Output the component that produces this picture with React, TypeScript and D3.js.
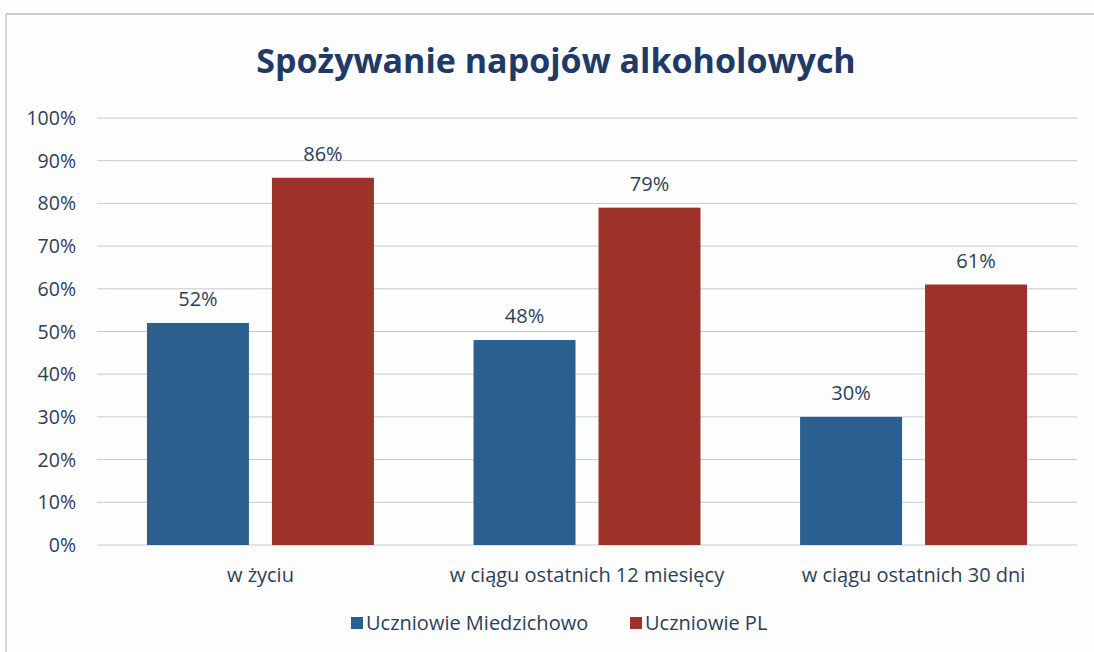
import React from "react";
import * as d3 from "d3";

const categories = ["w życiu", "w ciągu ostatnich 12 miesięcy", "w ciągu ostatnich 30 dni"];
const seriesNames = ["Uczniowie Miedzichowo", "Uczniowie PL"];
const miedzichowo = [52, 48, 30];
const pl = [86, 79, 61];
const yTicks = [0, 10, 20, 30, 40, 50, 60, 70, 80, 90, 100];
const colors = ["#2b5f90", "#9c3229"];
const title = "Spożywanie napojów alkoholowych";

export default function App() {
  const W = 1094, H = 652;
  const left = 97, right = 1077, top = 118, bottom = 545;
  const y = d3.scaleLinear().domain([0, 100]).range([bottom, top]);
  const x0 = d3.scaleBand<string>().domain(categories).range([left, right]).paddingInner(0.305).paddingOuter(0.153);
  const x1 = d3.scaleBand<string>().domain(seriesNames).range([0, x0.bandwidth()]).paddingInner(0.184);
  const series = [miedzichowo, pl];
  const font = "'Open Sans', 'Liberation Sans', sans-serif";
  const textColor = "#2d3f58";
  return (
    <svg width={W} height={H} style={{ position: "absolute", left: 0, top: 0, background: "#fff" }}>
      <rect x={0} y={0} width={W} height={H} fill="#fdfdfd" />
      <line x1={6} x2={W} y1={14} y2={14} stroke="#b8bcc4" strokeWidth={1.5} />
      <line x1={6} x2={6} y1={14} y2={H} stroke="#c4ccd8" strokeWidth={1.5} />
      <text x={556} y={73} textAnchor="middle" fontFamily={font} fontWeight="bold" fontSize={34} fill="#1f3a66">
        {title}
      </text>
      {yTicks.map((t) => (
        <g key={t}>
          <line x1={left} x2={right} y1={y(t)} y2={y(t)} stroke="#c5cad2" strokeWidth={1} />
          <text x={76} y={y(t) + 7} textAnchor="end" fontFamily={font} fontSize={19.5} fill={textColor}>
            {t}%
          </text>
        </g>
      ))}
      {categories.map((c, i) => (
        <g key={c}>
          {series.map((s, j) => {
            const bx = (x0(c) ?? 0) + (x1(seriesNames[j]) ?? 0);
            return (
              <g key={j}>
                <rect x={bx} y={y(s[i])} width={x1.bandwidth()} height={bottom - y(s[i])} fill={colors[j]} />
                <text x={bx + x1.bandwidth() / 2} y={y(s[i]) - 17} textAnchor="middle" fontFamily={font} fontSize={20} fill={textColor}>
                  {s[i]}%
                </text>
              </g>
            );
          })}
          <text x={(x0(c) ?? 0) + x0.bandwidth() / 2} y={582} textAnchor="middle" fontFamily={font} fontSize={20} fill={textColor}>
            {c}
          </text>
        </g>
      ))}
      {seriesNames.map((n, j) => {
        const lx = [351, 630][j];
        return (
          <g key={n}>
            <rect x={lx} y={617} width={12} height={12} fill={colors[j]} />
            <text x={lx + 15} y={630} fontFamily={font} fontSize={20} fill={textColor}>
              {n}
            </text>
          </g>
        );
      })}
    </svg>
  );
}
